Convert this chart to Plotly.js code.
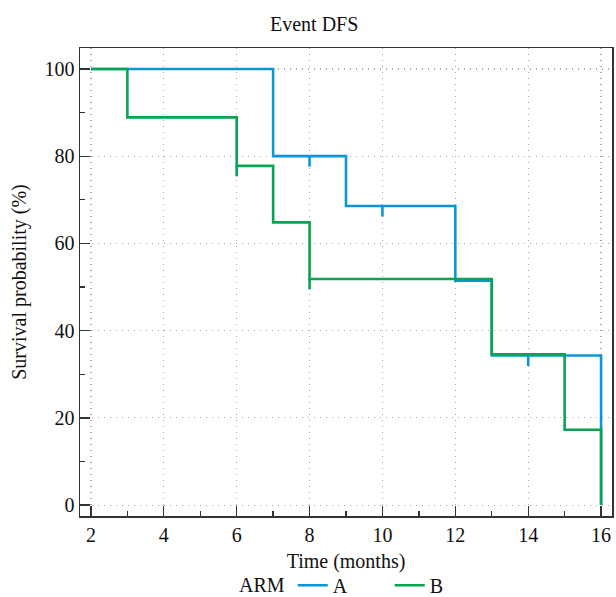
<!DOCTYPE html>
<html>
<head>
<meta charset="utf-8">
<script src="https://cdn.plot.ly/plotly-3.0.1.min.js"></script>
<style>html,body{margin:0;padding:0;background:#fff;}#chart{width:616px;height:597px;}</style>
</head>
<body>
<div id="chart"></div>
<script>
// Arm A: step times and survival (%)
const timeA = [2, 7, 9, 12, 13, 16];
const survA = [100, 80, 68.57, 51.43, 34.29, 0];
const censorTimeA = [8, 10, 14];
const censorSurvA = [80, 68.57, 34.29];

// Arm B
const timeB = [2, 3, 6, 7, 8, 13, 15, 16];
const survB = [100, 88.89, 77.78, 64.81, 51.85, 34.57, 17.28, 0];
const censorTimeB = [6, 8];
const censorSurvB = [77.78, 51.85];

const armNames = ['A', 'B'];
const xTicks = [2, 4, 6, 8, 10, 12, 14, 16];
const yTicks = [0, 20, 40, 60, 80, 100];

const colA = '#0a96d8';
const colB = '#09a452';
const TICK = 2.4; // censor tick length in y units (style)

function censorTrace(xs, ys, color) {
  const x = [], y = [];
  xs.forEach((t, i) => { x.push(t, t, null); y.push(ys[i], ys[i] - TICK, null); });
  return {x, y, mode: 'lines', line: {color, width: 2.6}, showlegend: false, hoverinfo: 'skip'};
}

const traces = [
  {x: timeA, y: survA, name: armNames[0], mode: 'lines', line: {shape: 'hv', color: colA, width: 2.6}},
  censorTrace(censorTimeA, censorSurvA, colA),
  {x: timeB, y: survB, name: armNames[1], mode: 'lines', line: {shape: 'hv', color: colB, width: 2.6}},
  censorTrace(censorTimeB, censorSurvB, colB)
];

const axisCommon = {
  showline: true, linecolor: '#333', linewidth: 1.5, mirror: true,
  ticks: 'inside', ticklen: 10, tickwidth: 1.3, tickcolor: '#333',
  showgrid: true, gridcolor: '#a8a8a8', griddash: '1px,5px', gridwidth: 1.2,
  zeroline: false, automargin: false,
  tickfont: {size: 20, color: '#111'}
};

const layout = {
  width: 616, height: 597,
  margin: {l: 80, r: 4, t: 48, b: 81, autoexpand: false},
  paper_bgcolor: '#fff', plot_bgcolor: '#fff',
  font: {family: '"Liberation Serif", "DejaVu Serif", serif', color: '#111', size: 20},
  title: {text: 'Event DFS', x: 0.51, xref: 'container', y: 0.96, yanchor: 'middle', font: {size: 20}},
  xaxis: Object.assign({}, axisCommon, {
    range: [1.7, 16.3], tickvals: xTicks, ticktext: xTicks.map(String),
    minor: {dtick: 1, tick0: 1, ticks: 'inside', ticklen: 5, tickcolor: '#333', showgrid: false},
    title: {text: 'Time (months)', standoff: 9, font: {size: 20}}
  }),
  yaxis: Object.assign({}, axisCommon, {
    range: [-2.5, 104.8], tickvals: yTicks, ticktext: yTicks.map(String),
    minor: {dtick: 10, tick0: 10, ticks: 'inside', ticklen: 5, tickcolor: '#333', showgrid: false},
    title: {text: 'Survival probability (%)', standoff: 12, font: {size: 20}}
  }),
  showlegend: true,
  legend: {orientation: 'h', x: 0.53, xanchor: 'center', y: -0.148, yanchor: 'middle',
    entrywidth: 52, entrywidthmode: 'pixels',
    title: {text: 'ARM', side: 'left', font: {size: 20}}, font: {size: 20},
    bgcolor: 'rgba(0,0,0,0)'}
};

Plotly.newPlot('chart', traces, layout, {displayModeBar: false, staticPlot: true});
</script>
</body>
</html>
